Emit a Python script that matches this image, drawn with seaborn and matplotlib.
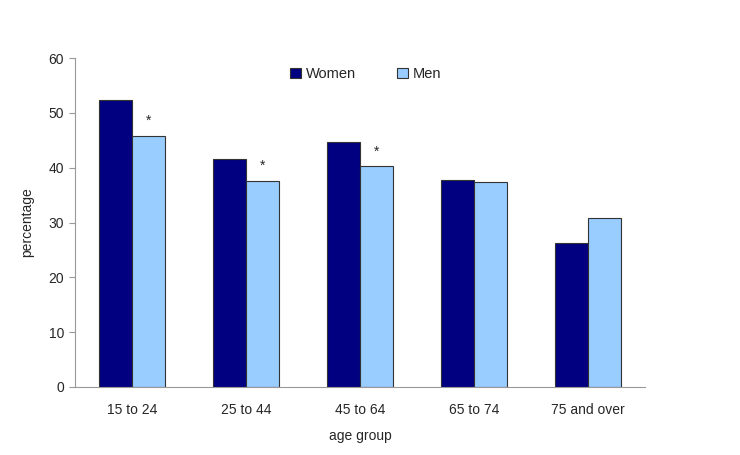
import pandas as pd
import numpy as np
import matplotlib
matplotlib.use("Agg")
import matplotlib.pyplot as plt
import seaborn as sns

# data
age_groups = ["15 to 24", "25 to 44", "45 to 64", "65 to 74", "75 and over"]
women = [52.4, 41.6, 44.6, 37.8, 26.3]
men = [45.8, 37.6, 40.3, 37.4, 30.8]
men_flag = ["*", "*", "*", "", ""]

df = pd.DataFrame({
    "age group": age_groups * 2,
    "percentage": women + men,
    "sex": ["Women"] * len(age_groups) + ["Men"] * len(age_groups),
})

sns.set_style("white")
plt.rcParams["font.family"] = ["Liberation Sans", "DejaVu Sans"]
plt.rcParams["font.size"] = 10

fig = plt.figure(figsize=(7.4, 4.55), dpi=100)
ax = fig.add_axes([75 / 740, 1 - 387 / 455, 570 / 740, 329 / 455])

sns.barplot(data=df, x="age group", y="percentage", hue="sex",
            palette={"Women": "#000080", "Men": "#99CCFF"},
            width=0.58, edgecolor="#333333", linewidth=0.8,
            saturation=1, ax=ax)

# asterisks over the men's bars
men_bars = ax.patches[len(age_groups):2 * len(age_groups)]
for bar, flag in zip(men_bars, men_flag):
    if flag:
        ax.text(bar.get_x() + bar.get_width() / 2, bar.get_height() + 1.4,
                flag, ha="center", va="bottom", fontsize=10)

ax.set_ylim(0, 60)
ax.set_yticks(np.arange(0, 61, 10))
ax.set_xlim(-0.5, len(age_groups) - 0.5)
ax.set_xlabel("age group", fontsize=10, labelpad=9)
ax.set_ylabel("percentage", fontsize=10, labelpad=10)
ax.tick_params(axis="y", left=True, length=4, color="#999999", labelsize=10, pad=4)
ax.tick_params(axis="x", bottom=False, labelsize=10, pad=8)
sns.despine(ax=ax)
for s in ["left", "bottom"]:
    ax.spines[s].set_color("#999999")
    ax.spines[s].set_linewidth(0.8)

ax.legend(loc="upper center", bbox_to_anchor=(0.51, 1.012), ncol=2, frameon=False,
          handlelength=0.75, handleheight=0.75, columnspacing=2.8, handletextpad=0.35,
          fontsize=10.5)

fig.savefig("out.png", dpi=100)
